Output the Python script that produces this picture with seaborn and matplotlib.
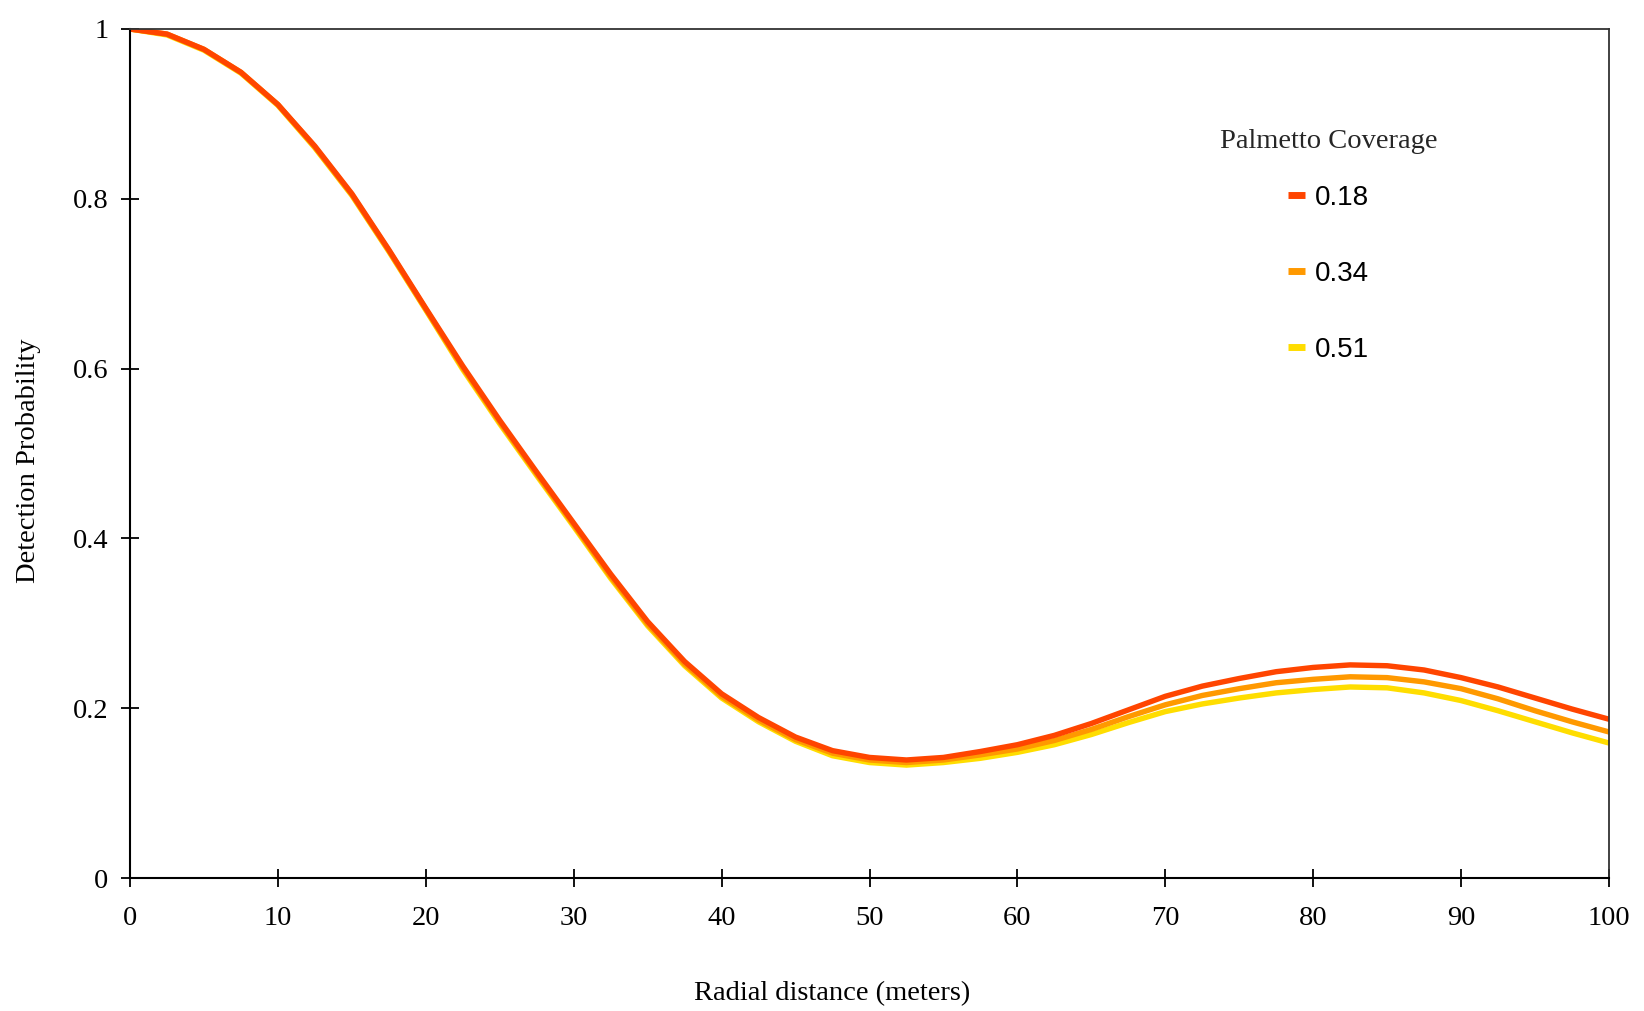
import matplotlib
matplotlib.use("Agg")
import matplotlib.pyplot as plt
import seaborn as sns
import pandas as pd
from matplotlib.lines import Line2D

# ---- data ----
distance = [0, 2.5, 5, 7.5, 10, 12.5, 15, 17.5, 20, 22.5, 25, 27.5, 30, 32.5, 35,
            37.5, 40, 42.5, 45, 47.5, 50, 52.5, 55, 57.5, 60, 62.5, 65, 67.5, 70,
            72.5, 75, 77.5, 80, 82.5, 85, 87.5, 90, 92.5, 95, 97.5, 100]

cov_018 = [1.000, 0.994, 0.976, 0.949, 0.911, 0.862, 0.806, 0.740, 0.671, 0.603,
           0.539, 0.478, 0.418, 0.358, 0.302, 0.255, 0.217, 0.189, 0.166, 0.150,
           0.142, 0.139, 0.142, 0.149, 0.157, 0.168, 0.182, 0.198, 0.214, 0.226,
           0.235, 0.243, 0.248, 0.251, 0.250, 0.245, 0.236, 0.225, 0.212, 0.199, 0.187]

cov_034 = [1.000, 0.994, 0.976, 0.949, 0.911, 0.861, 0.805, 0.739, 0.670, 0.601,
           0.537, 0.476, 0.416, 0.355, 0.299, 0.252, 0.214, 0.186, 0.163, 0.147,
           0.139, 0.136, 0.139, 0.145, 0.152, 0.162, 0.175, 0.190, 0.204, 0.215,
           0.223, 0.230, 0.234, 0.237, 0.236, 0.231, 0.223, 0.211, 0.197, 0.184, 0.172]

cov_051 = [1.000, 0.993, 0.975, 0.948, 0.910, 0.860, 0.804, 0.738, 0.669, 0.599,
           0.535, 0.474, 0.414, 0.353, 0.297, 0.250, 0.212, 0.184, 0.161, 0.144,
           0.136, 0.133, 0.136, 0.141, 0.148, 0.157, 0.169, 0.183, 0.196, 0.205,
           0.212, 0.218, 0.222, 0.225, 0.224, 0.218, 0.209, 0.197, 0.184, 0.171, 0.159]

labels = ["0.18", "0.34", "0.51"]
colors = {"0.18": "#FF4500", "0.34": "#FF9900", "0.51": "#FFDD00"}

x_ticks = [0, 10, 20, 30, 40, 50, 60, 70, 80, 90, 100]
y_ticks = [0, 0.2, 0.4, 0.6, 0.8, 1.0]
y_ticklabels = ["0", "0.2", "0.4", "0.6", "0.8", "1"]

df = pd.concat([
    pd.DataFrame({"distance": distance, "prob": vals, "coverage": lab})
    for vals, lab in zip([cov_018, cov_034, cov_051], labels)
])

# ---- style ----
sns.set_style("white")
plt.rcParams["font.family"] = ["Liberation Serif", "DejaVu Serif"]
plt.rcParams["lines.solid_joinstyle"] = "round"

fig = plt.figure(figsize=(16.44, 10.11), dpi=100)
ax = fig.add_axes([130 / 1644, 1 - 878 / 1011, (1609 - 130) / 1644, (878 - 29) / 1011])

sns.lineplot(data=df, x="distance", y="prob", hue="coverage",
             hue_order=["0.51", "0.34", "0.18"], palette=colors,
             linewidth=3.9, ax=ax, legend=False)

ax.set_xlim(0, 100)
ax.set_ylim(0, 1)
ax.set_xticks(x_ticks)
ax.set_xticklabels([str(t) for t in x_ticks])
ax.set_yticks(y_ticks)
ax.set_yticklabels(y_ticklabels)

ax.tick_params(axis="both", which="both", direction="inout", length=13, width=1.3,
               color="black", labelsize=20.5, labelcolor="black")
ax.tick_params(axis="x", pad=13.5)
ax.tick_params(axis="y", pad=9)
ax.tick_params(top=False, right=False, bottom=True, left=True)

for side in ["left", "bottom"]:
    ax.spines[side].set_color("black")
    ax.spines[side].set_linewidth(1.5)
for side in ["top", "right"]:
    ax.spines[side].set_color("#333333")
    ax.spines[side].set_linewidth(1.3)

ax.set_xlabel("Radial distance (meters)", fontsize=20.5, color="black")
ax.set_ylabel("Detection Probability", fontsize=20.5, color="black")
ax.xaxis.label.set_va("center")
ax.yaxis.label.set_va("center")
ax.xaxis.set_label_coords((832 - 130) / 1479, (878 - 994) / 849)
ax.yaxis.set_label_coords((28 - 130) / 1479, (878 - 461) / 849)

handles = [Line2D([0], [0], color=colors[l], linewidth=5, solid_capstyle="butt")
           for l in labels]
leg = ax.legend(handles, labels, title="Palmetto Coverage", loc="upper left",
                bbox_to_anchor=((1220 - 130) / 1479, (878 - 129) / 849),
                frameon=False, handlelength=0.62, handletextpad=0.35,
                labelspacing=1.8, prop={"family": ["Liberation Sans", "DejaVu Sans"], "size": 20},
                title_fontproperties={"family": ["Liberation Serif"], "size": 20.5},
                borderaxespad=0, borderpad=0)
leg._legend_box.sep = 22
for t in leg.get_texts():
    t.set_color("black")

fig.savefig("out.png", dpi=100, facecolor="white")
